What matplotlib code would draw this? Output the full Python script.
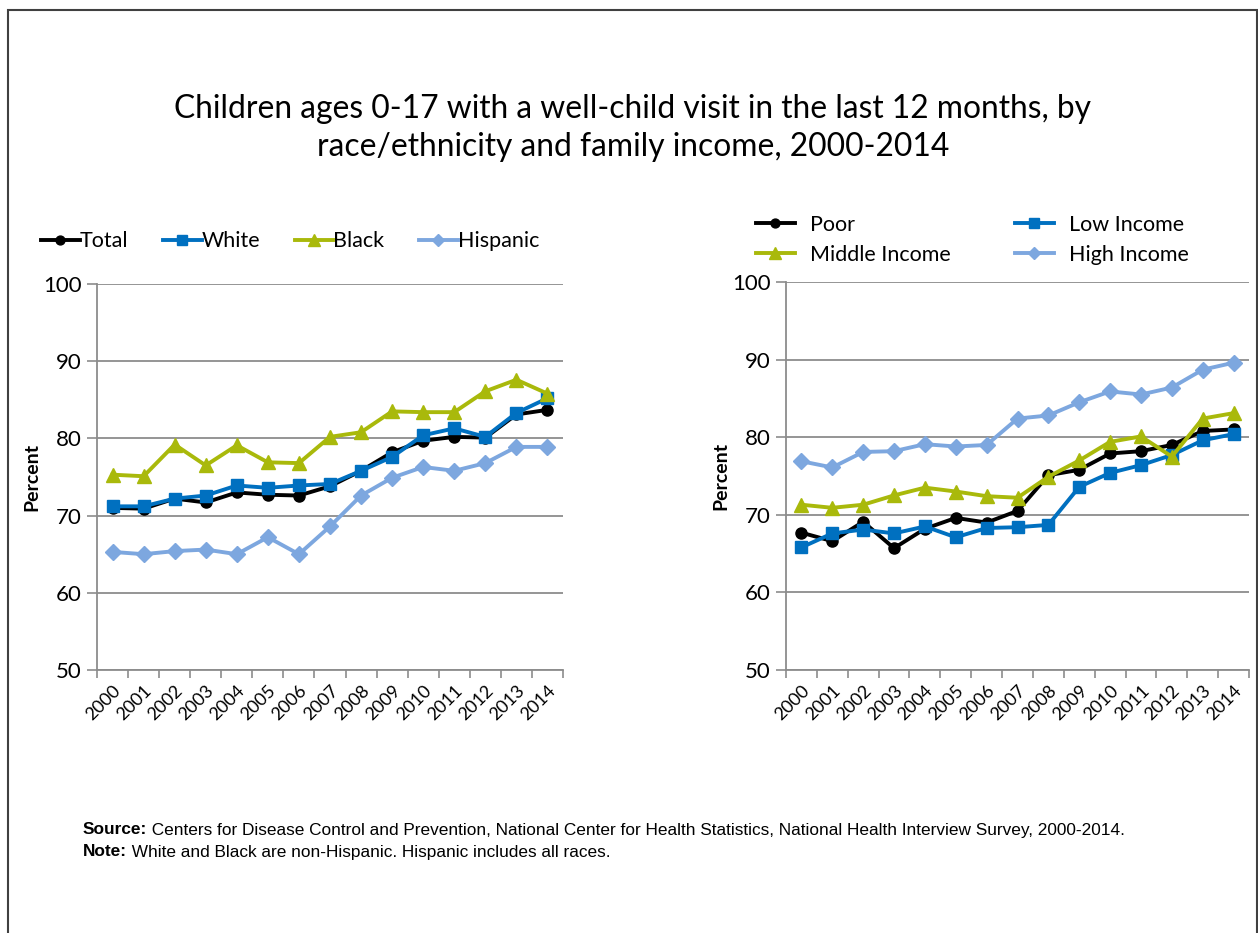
import numpy as np
import matplotlib
matplotlib.use("Agg")
import matplotlib.pyplot as plt
from matplotlib.patches import Rectangle

years = [str(y) for y in range(2000, 2015)]

# race / ethnicity panel
total = [71.0, 70.9, 72.2, 71.7, 73.0, 72.7, 72.6, 73.8, 75.8, 78.2, 79.7, 80.2, 80.1, 83.1, 83.7]
white = [71.2, 71.2, 72.2, 72.6, 73.9, 73.6, 73.9, 74.1, 75.8, 77.6, 80.4, 81.3, 80.2, 83.3, 85.2]
black = [75.3, 75.1, 79.2, 76.5, 79.1, 76.9, 76.8, 80.2, 80.8, 83.5, 83.4, 83.4, 86.1, 87.6, 85.8]
hispanic = [65.3, 65.0, 65.4, 65.6, 65.0, 67.2, 65.0, 68.6, 72.6, 74.9, 76.3, 75.8, 76.8, 78.9, 78.9]

# family income panel
poor = [67.7, 66.6, 69.1, 65.7, 68.2, 69.6, 69.0, 70.5, 75.1, 75.8, 77.9, 78.2, 79.0, 80.8, 81.0]
low_income = [65.8, 67.6, 68.1, 67.6, 68.5, 67.1, 68.3, 68.4, 68.7, 73.6, 75.4, 76.4, 77.7, 79.6, 80.4]
middle_income = [71.3, 70.9, 71.3, 72.5, 73.5, 73.0, 72.4, 72.2, 74.9, 77.0, 79.4, 80.1, 77.5, 82.4, 83.1]
high_income = [76.9, 76.1, 78.1, 78.2, 79.1, 78.8, 79.0, 82.4, 82.8, 84.5, 85.9, 85.5, 86.4, 88.7, 89.6]

source_label = "Source:"
source_text = " Centers for Disease Control and Prevention, National Center for Health Statistics, National Health Interview Survey, 2000-2014."
note_label = "Note:"
note_text = " White and Black are non-Hispanic. Hispanic includes all races."

BLACK = "#000000"
BLUE = "#0070C0"
OLIVE = "#A9B90B"
LIGHT = "#7DA7DF"
GRID = "#8C8C8C"
W, H = 1258, 933

plt.rcParams["font.family"] = ["Lato", "DejaVu Sans"]

fig = plt.figure(figsize=(W / 100, H / 100), dpi=100)

# outer frame
fig.patches.append(Rectangle((8 / W, -0.05), (1257 - 8) / W, 1 - 10 / H + 0.05,
                             transform=fig.transFigure, fill=False,
                             edgecolor="#404040", linewidth=1.5))

fig.text(0.503, 1 - 128 / H,
         "Children ages 0-17 with a well-child visit in the last 12 months, by\n"
         "race/ethnicity and family income, 2000-2014",
         ha="center", va="center", fontsize=22.9, linespacing=1.35)


def make_axes(left, right, top, bottom):
    return fig.add_axes([left / W, 1 - bottom / H, (right - left) / W, (bottom - top) / H])


def style_axes(ax):
    x = np.arange(len(years))
    ax.set_xlim(-0.5, len(years) - 0.5)
    ax.set_ylim(50, 100)
    ax.set_yticks([50, 60, 70, 80, 90, 100])
    ax.set_xticks(x)
    ax.set_xticklabels(years, rotation=45, ha="right", va="top", rotation_mode="anchor", fontsize=13)
    ax.set_xticks(np.arange(-0.5, len(years), 1), minor=True)
    ax.tick_params(axis="x", which="major", length=0, pad=9)
    ax.tick_params(axis="x", which="minor", length=6, color=GRID, width=1.2, direction="out")
    ax.tick_params(axis="y", length=7, color=GRID, width=1.2, labelsize=16, pad=4)
    ax.grid(axis="y", color=GRID, linewidth=1.3)
    ax.set_axisbelow(True)
    for s in ["top", "right"]:
        ax.spines[s].set_visible(False)
    for s in ["left", "bottom"]:
        ax.spines[s].set_color(GRID)
        ax.spines[s].set_linewidth(1.3)
    ax.set_ylabel("Percent", fontsize=14, fontweight="bold", labelpad=2)


def plot_series(ax, vals, color, marker, ms, label):
    x = np.arange(len(vals))
    ax.plot(x, vals, color=color, linewidth=2.8, marker=marker, markersize=ms,
            markerfacecolor=color, markeredgecolor=color, label=label)


ax1 = make_axes(97, 563, 284, 670)
plot_series(ax1, total, BLACK, "o", 8, "Total")
plot_series(ax1, white, BLUE, "s", 9, "White")
plot_series(ax1, black, OLIVE, "^", 10, "Black")
plot_series(ax1, hispanic, LIGHT, "D", 8, "Hispanic")
style_axes(ax1)
ax1.legend(loc="lower left", bbox_to_anchor=(-0.12, 1.085), ncol=4, frameon=False,
           fontsize=15.5, handlelength=1.8, handletextpad=0.0, columnspacing=1.6,
           borderaxespad=0, borderpad=0, markerscale=0.8)

ax2 = make_axes(786, 1249, 282, 670)
plot_series(ax2, poor, BLACK, "o", 8, "Poor")
plot_series(ax2, low_income, BLUE, "s", 9, "Low Income")
plot_series(ax2, middle_income, OLIVE, "^", 10, "Middle Income")
plot_series(ax2, high_income, LIGHT, "D", 8, "High Income")
style_axes(ax2)
h, l = ax2.get_legend_handles_labels()
ax2.legend([h[0], h[2], h[1], h[3]], [l[0], l[2], l[1], l[3]],
           loc="lower left", bbox_to_anchor=(-0.065, 1.045), ncol=2, frameon=False,
           fontsize=15.5, handlelength=1.8, handletextpad=0.7, columnspacing=3.0,
           labelspacing=0.45, borderaxespad=0, borderpad=0, markerscale=0.8)

# source and note lines: bold lead-in followed by plain text
NOTE_FONT = ["Liberation Sans Narrow", "Liberation Sans", "DejaVu Sans"]
renderer = fig.canvas.get_renderer()
for y, lead, body in [(830, source_label, source_text), (852, note_label, note_text)]:
    t = fig.text(83 / W, 1 - y / H, lead, fontsize=12.4, fontweight="bold",
                 va="center", family=NOTE_FONT)
    bb = t.get_window_extent(renderer)
    fig.text(bb.x1 / W, 1 - y / H, body, fontsize=12.4, va="center", family=NOTE_FONT)

fig.savefig("out.png", dpi=100)
